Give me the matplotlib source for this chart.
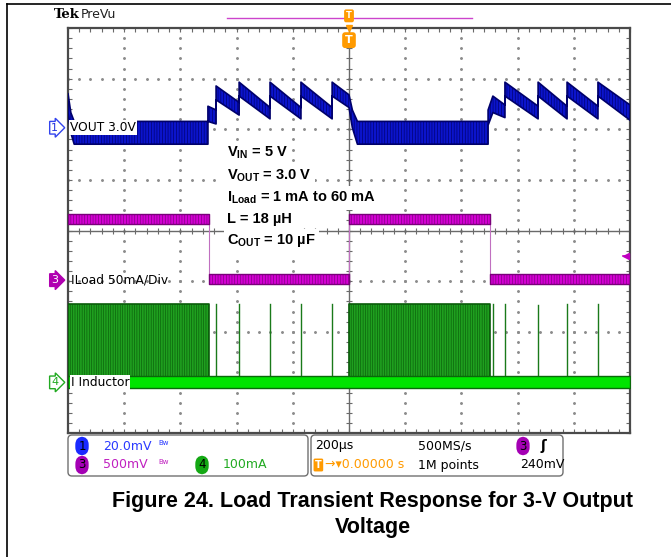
import numpy as np
import matplotlib.pyplot as plt
from matplotlib.patches import FancyBboxPatch

plt.rcParams["mathtext.fontset"] = "custom"
plt.rcParams["mathtext.rm"] = "Liberation Sans"
plt.rcParams["mathtext.bf"] = "Liberation Sans:bold"
plt.rcParams["hatch.linewidth"] = 0.45

# ── scope settings ───────────────────────────────────────────────────────────
T_PER_DIV = 200.0                   # µs/div, screen = -1000..1000 µs
CH1_POS, CH1_SCALE = 2.03, 20.0     # VOUT (around 3.0 V), mV/div
CH3_POS, CH3_SCALE = -0.98, 50.0    # ILoad, mA/div
CH4_POS, CH4_SCALE = -3.0, 100.0    # I Inductor, mA/div
CH3_TRIG_DIV = 0.48                 # 240 mV at 500 mV/div

# ── VOUT envelope (mV relative to 3.0 V) ─────────────────────────────────────
vout_t = [-1000, -990, -978, -502, -502, -473, -473, -391, -391, -281, -281,
          -171, -171, -60, -60, 0, 12, 30, 495, 495, 512, 555, 555, 673, 673,
          776, 776, 886, 886, 1000]
vout_hi = [13.5, 6, 2.5, 2.5, 8.5, 7, 16.5, 10, 18, 8, 18,
           8, 18, 8, 18, 13, 7, 2.5, 2.5, 7, 12.5, 9, 18, 8.5, 18,
           8.5, 18, 8.5, 18, 9]
vout_lo = [6, -2, -6.5, -6.5, 2.5, 1.5, 11, 5, 12.5, 3.5, 12.5,
           3.5, 12.5, 3.5, 12.5, 8, 0, -6.5, -6.5, 1, 6, 4, 12.5, 3.5, 12.5,
           3.5, 12.5, 3.5, 12.5, 3]

# ── ILoad (mA) ───────────────────────────────────────────────────────────────
load_edges = [-1000, -500, 0, 500, 1000]
load_ma = [60, 1, 60, 1]
LOAD_NOISE = 5

# ── inductor current (mA) ────────────────────────────────────────────────────
il_sw_start = [-1000, 0]        # continuous switching at 60 mA
il_sw_end = [-500, 500]
IL_PEAK = 155
IL_FLOOR = 12
il_spike_t = [-473, -391, -281, -171, -60, 512, 555, 673, 776, 886]
il_spike_pk = [155, 155, 155, 155, 155, 155, 155, 153, 155, 155]


def ch1(v):
    return CH1_POS + np.asarray(v, float) / CH1_SCALE


def ch3(v):
    return CH3_POS + np.asarray(v, float) / CH3_SCALE


def ch4(v):
    return CH4_POS + np.asarray(v, float) / CH4_SCALE


W, H = 671, 557
fig = plt.figure(figsize=(W / 100, H / 100), dpi=100)
fig.patch.set_facecolor("white")

L, R, T, B = 68, 630, 28, 433
ax = fig.add_axes([L / W, 1 - B / H, (R - L) / W, (B - T) / H])
ax.set_xlim(-5 * T_PER_DIV, 5 * T_PER_DIV)
ax.set_ylim(-4, 4)

# ── graticule ────────────────────────────────────────────────────────────────
GRID = "#8c8c8c"
dots_y = np.arange(-4, 4.01, 0.2)
dots_x = np.arange(-1000, 1001, 40)
for k in [-4, -3, -2, -1, 1, 2, 3, 4]:
    ax.plot(np.full_like(dots_y, k * T_PER_DIV), dots_y, ls="none", marker="o",
            ms=1.1, color=GRID, zorder=1)
for k in [-3, -2, -1, 1, 2, 3]:
    ax.plot(dots_x, np.full_like(dots_x, k, dtype=float), ls="none", marker="o",
            ms=1.1, color=GRID, zorder=1)
ax.axhline(0, color="#6a6a6a", lw=1, zorder=1)
ax.axvline(0, color="#6a6a6a", lw=1, zorder=1)
ax.plot(dots_x, np.zeros_like(dots_x), ls="none", marker="|", ms=5,
        color="#6a6a6a", mew=0.8, zorder=1)
ax.plot(np.zeros_like(dots_y), dots_y, ls="none", marker="_", ms=5,
        color="#6a6a6a", mew=0.8, zorder=1)

ax.set_xticks(np.arange(-1000, 1001, 200))
ax.set_xticks(dots_x, minor=True)
ax.set_yticks(np.arange(-4, 5, 1))
ax.set_yticks(dots_y, minor=True)
ax.tick_params(which="both", direction="in", length=3, width=0.8, color="#6a6a6a",
               top=True, right=True, labelbottom=False, labelleft=False)
for s in ax.spines.values():
    s.set_color("#4a4a4a")
    s.set_linewidth(1.6)

# ── CH1 VOUT ─────────────────────────────────────────────────────────────────
ax.fill_between(vout_t, ch1(vout_lo), ch1(vout_hi), facecolor="#0b14cc",
                edgecolor="#00006a", hatch="||||||", lw=1.2, zorder=4)

# ── CH3 ILoad ────────────────────────────────────────────────────────────────
ax.step(load_edges, ch3(load_ma + [load_ma[-1]]), where="post",
        color="#c070c0", lw=0.8, zorder=3)
for i, lvl in enumerate(load_ma):
    xs = [load_edges[i], load_edges[i + 1]]
    ax.fill_between(xs, ch3([lvl - LOAD_NOISE] * 2), ch3([lvl + LOAD_NOISE] * 2),
                    facecolor="#d400d4", edgecolor="#7a007a", lw=1.0,
                    hatch="||||||", zorder=4)
ax.plot([975, 1000], [CH3_POS + CH3_TRIG_DIV] * 2, color="#c000c0", lw=1.2,
        zorder=5)
ax.plot([985], [CH3_POS + CH3_TRIG_DIV], marker="<", ms=5, color="#c000c0",
        zorder=5)

# ── CH4 inductor current ────────────────────────────────────────────────────
for t0, t1 in zip(il_sw_start, il_sw_end):
    ax.fill_between([t0, t1], ch4([-IL_FLOOR] * 2), ch4([IL_PEAK] * 2),
                    facecolor="#1f9f1f", edgecolor="#0a5c0a", hatch="|||||||",
                    lw=1.2, zorder=3)
for t, pk in zip(il_spike_t, il_spike_pk):
    ax.plot([t, t], ch4([0, pk]), color="#1a7a1a", lw=1.0, zorder=3)
ax.fill_between([-1000, 1000], ch4([-IL_FLOOR] * 2), ch4([IL_FLOOR] * 2),
                facecolor="#00e400", edgecolor="#0a6a0a", lw=1.0, zorder=3.5)

# ── channel labels and markers ──────────────────────────────────────────────
lab = dict(fontsize=8.8, family="DejaVu Sans", va="center", ha="left", zorder=6)
ax.text(-993, CH1_POS, "VOUT 3.0V", color="black",
        bbox=dict(fc="white", ec="none", pad=0.6), **lab)
ax.text(-990, CH3_POS, "ILoad 50mA/Div", color="black", **lab)
ax.text(-990, CH4_POS, "I Inductor", color="black",
        bbox=dict(fc="white", ec="none", pad=0.6), **lab)

ytr = ax.get_yaxis_transform()
mk = dict(transform=ytr, fontsize=8, ha="center", va="center", clip_on=False,
          family="DejaVu Sans")
ax.text(-0.024, CH1_POS, "1", color="#2233dd",
        bbox=dict(boxstyle="rarrow,pad=0.12", fc="white", ec="#3344ee", lw=1), **mk)
ax.text(-0.024, CH3_POS, "3", color="white",
        bbox=dict(boxstyle="rarrow,pad=0.12", fc="#b000b0", ec="#b000b0", lw=1), **mk)
ax.text(-0.024, CH4_POS, "4", color="#22aa22",
        bbox=dict(boxstyle="rarrow,pad=0.12", fc="white", ec="#22aa22", lw=1), **mk)

# ── test conditions ─────────────────────────────────────────────────────────
cond = [r"$\mathbf{V_{IN}}$ = 5 V",
        r"$\mathbf{V_{OUT}}$ = 3.0 V",
        r"$\mathbf{I_{Load}}$ = 1 mA to 60 mA",
        "L = 18 µH",
        r"$\mathbf{C_{OUT}}$ = 10 µF"]
cond_y = [1.53, 1.08, 0.64, 0.22, -0.2]
for s, y in zip(cond, cond_y):
    ax.text(-434, y, s, fontsize=10.5, fontweight="bold", family="Liberation Sans",
            va="center", ha="left", zorder=7,
            bbox=dict(fc="white", ec="none", pad=2.5))

# ── trigger / record markers above the screen ──────────────────────────────
xtr = ax.get_xaxis_transform()
ax.plot([-434, 438], [1.025, 1.025], transform=xtr, clip_on=False,
        color="#cc44cc", lw=1, zorder=5)
ax.text(0, 1.03, "T", transform=xtr, fontsize=6, color="white", ha="center",
        va="center", fontweight="bold", clip_on=False, zorder=8,
        bbox=dict(boxstyle="round,pad=0.15", fc="#ff9a00", ec="#ff9a00"))
ax.plot([0], [1.0], transform=xtr, marker="v", ms=5, color="#ff9a00",
        clip_on=False, zorder=8)
ax.text(0, 0.97, "T", transform=xtr, fontsize=8, color="white", ha="center",
        va="center", fontweight="bold", clip_on=False, zorder=8,
        bbox=dict(boxstyle="round,pad=0.2", fc="#ff9a00", ec="#ff9a00"))

# ── overlay in pixel units for frame, header, readout and caption ──────────
ov = fig.add_axes([0, 0, 1, 1])
ov.set_xlim(0, W)
ov.set_ylim(H, 0)
ov.axis("off")
ov.patch.set_visible(False)

ov.plot([7, W], [4, 4], color="black", lw=1.2)
ov.plot([7, 7], [4, H], color="black", lw=1.2)

ov.text(54, 15, "Tek", fontsize=9.5, fontweight="bold", family="DejaVu Serif",
        va="center", ha="left")
ov.text(81, 15, "PreVu", fontsize=9, family="DejaVu Sans", va="center", ha="left",
        color="#202020")

for x0, x1 in [(68, 308), (311, 563)]:
    ov.add_patch(FancyBboxPatch((x0 + 4, 439), x1 - x0 - 8, 33,
                                boxstyle="round,pad=4", fc="white",
                                ec="#707070", lw=1.0))

rd = dict(fontsize=9, family="DejaVu Sans", va="center", ha="left")
r1, r2 = 446, 465


def badge(x, y, s, fc):
    ov.text(x, y, s, color="black", ha="center", va="center", fontsize=8.5,
            family="DejaVu Sans",
            bbox=dict(boxstyle="round,pad=0.25,rounding_size=0.7", fc=fc, ec="none"))


badge(82, r1, "1", "#1a2aff")
ov.text(103, r1, "20.0mV", color="#2a3aff", **rd)
ov.text(158, r1 - 3, "Bw", color="#2a3aff", fontsize=5, family="DejaVu Sans",
        va="center")
badge(82, r2, "3", "#a400b4")
ov.text(103, r2, "500mV", color="#c020c0", **rd)
ov.text(158, r2 - 3, "Bw", color="#c020c0", fontsize=5, family="DejaVu Sans",
        va="center")
badge(202, r2, "4", "#14a814")
ov.text(223, r2, "100mA", color="#22aa22", **rd)

ov.text(315, r1, "200µs", color="black", **rd)
ov.text(418, r1, "500MS/s", color="black", **rd)
badge(523, r1, "3", "#a400b4")
ov.text(541, r1, "ʃ", color="black", fontsize=10, fontweight="bold",
        family="DejaVu Sans", va="center", ha="left")
ov.text(315, r2, "T", color="white", fontsize=7, fontweight="bold",
        family="DejaVu Sans", va="center", ha="left",
        bbox=dict(boxstyle="round,pad=0.15", fc="#ff9a00", ec="none"))
ov.text(325, r2, "→▾0.00000 s", color="#ff9a00", **rd)
ov.text(418, r2, "1M points", color="black", **rd)
ov.text(520, r2, "240mV", color="black", **rd)

cap = dict(fontsize=15.5, fontweight="bold", family="Liberation Sans",
           ha="center", va="center")
ov.text(373, 501, "Figure 24. Load Transient Response for 3-V Output", **cap)
ov.text(373, 527, "Voltage", **cap)

fig.savefig("out.png", dpi=100)
